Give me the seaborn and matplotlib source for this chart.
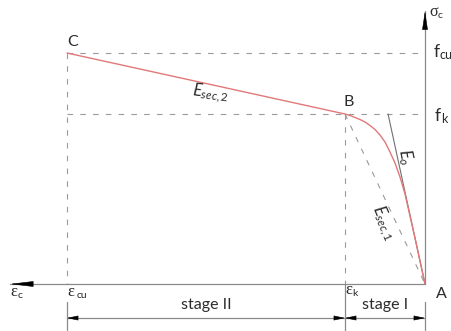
import numpy as np
import pandas as pd
import matplotlib
matplotlib.use("Agg")
import matplotlib.pyplot as plt
from matplotlib.patches import FancyArrowPatch
import seaborn as sns

# --- material parameters (strain in per mille, stress in MPa) ---
eps_k = 2.0      # strain at end of stage I
eps_cu = 8.95    # ultimate strain
f_k = 34.0       # stress at B
f_cu = 46.2      # stress at C
E0 = 36.8        # initial tangent modulus

# ascending branch A -> B (stage I)
rise_strain = [0.0, 0.125, 0.25, 0.375, 0.5, 0.625, 0.75, 0.875, 1.0,
               1.125, 1.25, 1.375, 1.5, 1.625, 1.75, 1.875, 2.0]
rise_stress = [0.0, 4.6, 9.2, 13.6, 18.0, 21.4, 24.2, 26.4, 28.4,
               29.8, 30.9, 31.7, 32.4, 32.9, 33.3, 33.7, 34.0]

stage_labels = ["stage II", "stage I"]

# --- style ---
RED = "#e27878"
AXIS_GRAY = "#8a8a8a"
DASH_GRAY = "#9a9a9a"
TEXT = "#2b2b2b"
DASH = (0, (5, 6.5))

sns.set_theme(style="white")
plt.rcParams["font.family"] = ["Lato", "DejaVu Sans"]
plt.rcParams["mathtext.fontset"] = "custom"
plt.rcParams["mathtext.rm"] = "Lato"
plt.rcParams["mathtext.it"] = "Lato:italic"

fig = plt.figure(figsize=(4.51, 3.31), dpi=100)
ax = fig.add_axes([0, 0, 1, 1])
ax.set_xlim(10.625, -0.65)   # strain grows to the left
ax.set_ylim(-9.4, 56.8)
ax.axis("off")

# reference lines
ax.plot([eps_cu, 0], [f_cu, f_cu], ls=DASH, color=DASH_GRAY, lw=0.8)
ax.plot([eps_cu, 0], [f_k, f_k], ls=DASH, color=DASH_GRAY, lw=0.8)
ax.plot([eps_cu, eps_cu], [f_cu, 0], ls=DASH, color=DASH_GRAY, lw=0.8)
ax.plot([eps_k, eps_k], [f_k, 0], ls=DASH, color=DASH_GRAY, lw=0.8)
# secant modulus of stage I
ax.plot([eps_k, 0], [f_k, 0], ls=DASH, color=DASH_GRAY, lw=0.8)
# initial tangent
ax.plot([0, f_k / E0], [0, f_k], color="#707070", lw=0.8)

# stress-strain curve A -> B -> C
curve = pd.DataFrame({"strain": rise_strain + [eps_cu],
                      "stress": rise_stress + [f_cu]})
sns.lineplot(data=curve, x="strain", y="stress", sort=False, estimator=None,
             color=RED, lw=1.0, ax=ax)
ax.set_xlabel("")
ax.set_ylabel("")


def head(start, end, length, width):
    ax.add_patch(FancyArrowPatch(start, end,
                                 arrowstyle=f"-|>,head_length={length},head_width={width}",
                                 mutation_scale=1, color="black", lw=0.4,
                                 shrinkA=0, shrinkB=0, zorder=5))


# coordinate axes
x_end, y_end = 10.375, 54.6
ax.plot([0, x_end], [0, 0], color=AXIS_GRAY, lw=0.9)
ax.plot([0, 0], [0, y_end], color=AXIS_GRAY, lw=0.9)
head((x_end - 0.55, 0), (x_end, 0), 15, 1.8)
head((0, y_end - 3.4), (0, y_end), 12, 1.8)

# dimension line for the stages
y_dim = -6.8
ax.plot([eps_cu, 0], [y_dim, y_dim], color=AXIS_GRAY, lw=0.9)
ax.plot([eps_cu, eps_cu], [-3.6, -9.2], color=AXIS_GRAY, lw=0.9)
ax.plot([eps_k, eps_k], [0, -9.4], color=AXIS_GRAY, lw=0.9)
ax.plot([0, 0], [-3.6, -9.2], color=AXIS_GRAY, lw=0.9)
hl = 0.25
head((eps_cu - hl, y_dim), (eps_cu, y_dim), 7, 1.5)
head((eps_k + hl, y_dim), (eps_k, y_dim), 7, 1.5)
head((eps_k - hl, y_dim), (eps_k, y_dim), 7, 1.5)
head((hl, y_dim), (0, y_dim), 7, 1.5)

ax.text((eps_cu + eps_k) / 2, -5.0, stage_labels[0], ha="center", va="baseline",
        fontsize=11.5, color=TEXT)
ax.text(eps_k / 2, -5.0, stage_labels[1], ha="center", va="baseline",
        fontsize=11.5, color=TEXT)

# point labels
ax.text(8.81, 48.4, "C", ha="center", va="center", fontsize=11.5, color=TEXT)
ax.text(1.91, 36.4, "B", ha="center", va="center", fontsize=11.5, color=TEXT)
ax.text(-0.42, -1.9, "A", ha="center", va="center", fontsize=11.5, color=TEXT)

# axis symbols
SERIF = ["Liberation Serif", "DejaVu Serif"]


def symbol(x, y, main, sub, main_family, main_size, dx, dy, sub_size):
    ax.text(x, y, main, ha="left", va="baseline", fontsize=main_size,
            family=main_family, color=TEXT)
    ax.text(x - dx, y - dy, sub, ha="left", va="baseline", fontsize=sub_size,
            color=TEXT)


symbol(10.375, -2.3, "ε", "c", SERIF, 12, 0.19, 0.5, 7.5)
symbol(8.93, -2.3, "ε", "cu", SERIF, 12, 0.21, 0.5, 7.5)
symbol(2.0 - 0.02, -1.9, "ε", "k", SERIF, 12, 0.15, 0.5, 7.5)
symbol(-0.12, 53.6, "σ", "c", SERIF, 11.5, 0.2, 0.5, 7.5)
symbol(-0.22, 45.4, "f", "cu", ["Lato", "DejaVu Sans"], 12.5, 0.14, 0.4, 9)
symbol(-0.25, 32.6, "f", "k", ["Lato", "DejaVu Sans"], 12.5, 0.15, 0.4, 9)

# moduli labels
ax.text(5.35, 38.2, r"$E_{sec,2}$", ha="center", va="center", rotation=-7,
        rotation_mode="anchor", fontsize=12, color=TEXT)
ax.text(0.5, 25.4, r"$E_o$", ha="center", va="center", rotation=-78,
        rotation_mode="anchor", fontsize=12, color=TEXT)
ax.text(1.02, 12.2, r"$E_{sec,1}$", ha="center", va="center", rotation=-67,
        rotation_mode="anchor", fontsize=12, color=TEXT)

fig.savefig("out.png", dpi=100)
